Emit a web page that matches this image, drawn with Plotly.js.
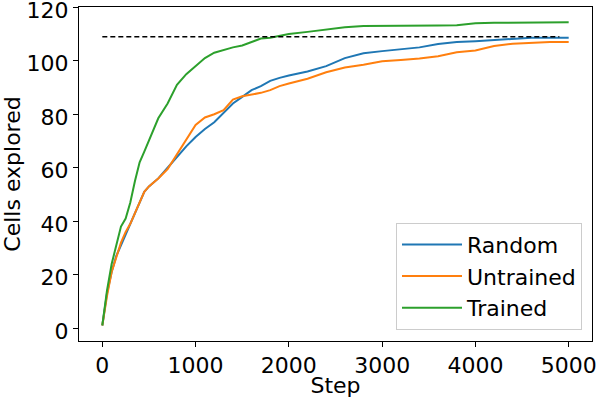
<!DOCTYPE html>
<html>
<head>
<meta charset="utf-8">
<script src="https://cdn.plot.ly/plotly-3.0.1.min.js"></script>
<style>html,body{margin:0;padding:0;background:#fff;}</style>
</head>
<body>
<div id="chart" style="width:596px;height:398px;"></div>
<script>
const steps = [0, 50, 100, 150, 200, 250, 300, 350, 400, 450, 500, 600, 700, 800, 900, 1000, 1100, 1200, 1300, 1400, 1500, 1600, 1700, 1800, 1900, 2000, 2200, 2400, 2600, 2800, 3000, 3200, 3400, 3600, 3800, 4000, 4200, 4400, 4600, 4800, 5000];
const randomCells = [1, 13, 21, 27, 31, 35, 39, 43, 47, 51, 53, 56, 60, 64, 68, 71.5, 74.5, 77, 80.5, 84, 86.5, 89, 90.5, 92.5, 93.6, 94.5, 96, 98, 101, 102.8, 103.6, 104.2, 105, 106.3, 107, 107.3, 107.7, 108.2, 108.6, 108.6, 108.6];
const untrainedCells = [1, 12, 21, 27, 32, 36, 39, 43, 47, 51, 53, 56, 59.5, 65, 70, 76, 78.8, 80, 81.5, 85.5, 86.7, 87.3, 88, 89, 90.5, 91.5, 93.3, 95.7, 97.5, 98.5, 99.8, 100.3, 100.8, 101.7, 103.2, 103.8, 105.5, 106.4, 106.8, 107, 107];
const trainedCells = [1, 14, 24, 31, 38, 41, 47, 55, 62, 66, 70, 78.5, 84, 91, 95, 98, 101, 103, 104, 105, 105.7, 107, 108.3, 108.6, 109.4, 110, 110.8, 111.6, 112.5, 113, 113, 113.1, 113.2, 113.2, 113.3, 114, 114.2, 114.3, 114.4, 114.4, 114.4];
const seriesNames = ["Random", "Untrained", "Trained"];
const seriesColors = ["#1f77b4", "#ff7f0e", "#2ca02c"];
const refSteps = [0, 4900];
const refCells = [109, 109];

const seriesData = [randomCells, untrainedCells, trainedCells];
const traces = seriesData.map((ys, i) => ({
  x: steps, y: ys, type: "scatter", mode: "lines", name: seriesNames[i],
  line: {color: seriesColors[i], width: 2}
}));
traces.push({
  x: refSteps, y: refCells, type: "scatter", mode: "lines", showlegend: false,
  line: {color: "#000", width: 1.5, dash: "5px,3px"}, hoverinfo: "skip"
});

const font = {family: "DejaVu Sans", size: 22, color: "#000"};
const layout = {
  width: 596, height: 398,
  margin: {l: 79, r: 4, t: 7, b: 57},
  paper_bgcolor: "#fff", plot_bgcolor: "#fff",
  font: font,
  showlegend: true,
  legend: {
    x: 0.9805, y: 0.034, xanchor: "right", yanchor: "bottom",
    bgcolor: "rgba(255,255,255,0.8)", bordercolor: "#cccccc", borderwidth: 1,
    itemwidth: 60,
    font: font
  },
  xaxis: {
    range: [-250, 5250], tickvals: [0, 1000, 2000, 3000, 4000, 5000],
    showgrid: false, zeroline: false, showline: true, mirror: true,
    linecolor: "#000", linewidth: 1, ticks: "outside", ticklen: 5, tickwidth: 1, tickcolor: "#000",
    tickfont: font, ticklabeloverflow: "allow", automargin: false,
    title: {text: "Step", font: font, standoff: 6}
  },
  yaxis: {
    range: [-4.8, 120.1], tickvals: [0, 20, 40, 60, 80, 100, 120],
    showgrid: false, zeroline: false, showline: true, mirror: true,
    linecolor: "#000", linewidth: 1, ticks: "outside", ticklen: 5, tickwidth: 1, tickcolor: "#000",
    tickfont: font, ticklabeloverflow: "allow", automargin: false, ticklabelshift: 3,
    title: {text: "Cells explored", font: font, standoff: 6}
  }
};
Plotly.newPlot("chart", traces, layout, {displayModeBar: false, staticPlot: true});
</script>
</body>
</html>
